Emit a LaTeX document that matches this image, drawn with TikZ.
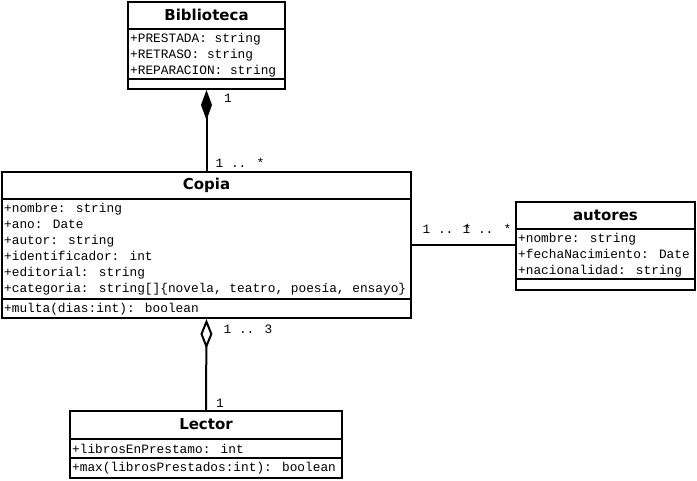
\documentclass[tikz,border=0pt]{standalone}
\usepackage{fontspec}
\setmainfont{DejaVu Sans}
\newfontfamily\umlmono{Liberation Mono}
\usetikzlibrary{arrows.meta,positioning}

\tikzset{
	classbox/.style={draw,line width=2pt,anchor=north west,inner sep=0pt},
	classname/.style={font=\fontsize{15}{17}\selectfont\bfseries,inner sep=0pt},
	members/.style={font=\umlmono\fontsize{12.8}{16}\selectfont,align=left,anchor=west,inner sep=0pt},
	mult/.style={font=\umlmono\fontsize{12.8}{16}\selectfont,inner sep=0pt},
	sep/.style={line width=2pt},
	assoc/.style={line width=2pt}
}

\begin{document}
\begin{tikzpicture}[x=1pt,y=1pt]
\useasboundingbox (0,0) rectangle (697,-480);

% Biblioteca
\node[classbox,minimum width=157pt,minimum height=87pt] (bib) at (127,-1) {};
\node[classname] (bibname) at ([yshift=-14pt]bib.north) {Biblioteca};
\draw[sep] ([yshift=-28pt]bib.north west) -- ([yshift=-28pt]bib.north east);
\draw[sep] ([yshift=-78pt]bib.north west) -- ([yshift=-78pt]bib.north east);
\node[members] (bibattr) at ([shift={(3pt,-54pt)}]bib.north west)
	{+PRESTADA: string\\+RETRASO: string\\+REPARACION: string};

% Copia
\node[classbox,minimum width=409pt,minimum height=146pt] (copia) at (1,-171) {};
\node[classname] (copianame) at ([yshift=-14pt]copia.north) {Copia};
\draw[sep] ([yshift=-28pt]copia.north west) -- ([yshift=-28pt]copia.north east);
\draw[sep] ([yshift=-128pt]copia.north west) -- ([yshift=-128pt]copia.north east);
\node[members] (copiaattr) at ([shift={(3pt,-78pt)}]copia.north west)
	{+nombre: string\\+ano: Date\\+autor: string\\+identificador: int\\
	+editorial: string\\+categoria: string[]\{novela, teatro, poesía, ensayo\}};
\node[members] (copiaops) at ([shift={(3pt,-138pt)}]copia.north west)
	{+multa(dias:int): boolean};

% autores
\node[classbox,minimum width=179pt,minimum height=88pt] (aut) at (515,-201) {};
\node[classname] (autname) at ([yshift=-14pt]aut.north) {autores};
\draw[sep] ([yshift=-28pt]aut.north west) -- ([yshift=-28pt]aut.north east);
\draw[sep] ([yshift=-78pt]aut.north west) -- ([yshift=-78pt]aut.north east);
\node[members] (autattr) at ([shift={(3pt,-54pt)}]aut.north west)
	{+nombre: string\\+fechaNacimiento: Date\\+nacionalidad: string};

% Lector
\node[classbox,minimum width=272pt,minimum height=67pt] (lector) at (69,-410) {};
\node[classname] (lectorname) at ([yshift=-14.5pt]lector.north) {Lector};
\draw[sep] ([yshift=-29pt]lector.north west) -- ([yshift=-29pt]lector.north east);
\draw[sep] ([yshift=-48pt]lector.north west) -- ([yshift=-48pt]lector.north east);
\node[members] (lectorattr) at ([shift={(3pt,-39pt)}]lector.north west)
	{+librosEnPrestamo: int};
\node[members] (lectorops) at ([shift={(3pt,-58pt)}]lector.north west)
	{+max(librosPrestados:int): boolean};

% relaciones
\draw[assoc,{Diamond[length=30pt,width=11pt]}-] (bib.south) -- (copia.north);
\draw[assoc,{Diamond[open,fill=white,length=30pt,width=12pt]}-] (copia.south) -- (lector.north);
\draw[assoc] (copia.east) -- (copia.east -| aut.west);

% multiplicidades
\node[mult] (bibmult) at (228,-98) {1};
\node[mult] (copiamulta) at (240,-163) {1 .. *};
\node[mult] (copiamultb) at (248,-329) {1 .. 3};
\node[mult] (lectormult) at (220,-403) {1};
\node[mult] (copiamultc) at (447,-229) {1 .. *};
\node[mult] (autmult) at (487,-229) {1 .. *};
\end{tikzpicture}
\end{document}
